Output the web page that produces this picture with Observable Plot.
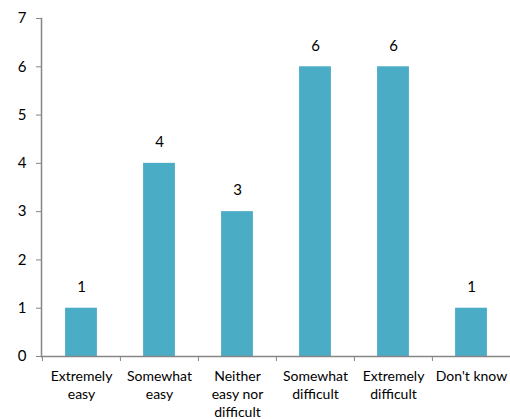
<!DOCTYPE html>
<html>
<head>
<meta charset="utf-8">
<script src="https://cdn.jsdelivr.net/npm/d3@7"></script>
<script src="https://cdn.jsdelivr.net/npm/@observablehq/plot@0.6"></script>
<style>
  body { margin: 0; background: #fff; }
  #chart svg { display: block; }
</style>
</head>
<body>
<div id="chart"></div>
<script>
// Survey responses: how easy or difficult it was
const categories = ["Extremely easy", "Somewhat easy", "Neither easy nor difficult", "Somewhat difficult", "Extremely difficult", "Don't know"];
const counts = [1, 4, 3, 6, 6, 1];
const tickLabels = ["Extremely\neasy", "Somewhat\neasy", "Neither\neasy nor\ndifficult", "Somewhat\ndifficult", "Extremely\ndifficult", "Don't know"];
const yTicks = [0, 1, 2, 3, 4, 5, 6, 7];

const data = categories.map((c, i) => ({category: c, count: counts[i]}));
const labelOf = new Map(categories.map((c, i) => [c, tickLabels[i]]));

const width = 510, height = 419;
const marginLeft = 41, marginRight = 0, marginTop = 18, marginBottom = 63;
const step = (width - marginLeft - marginRight) / categories.length;
const barWidth = 32;
const inset = (step - barWidth) / 2;
const axisColor = "#868686";
const barColor = "#4BACC6";

const chart = Plot.plot({
  width, height, marginLeft, marginRight, marginTop, marginBottom,
  style: {fontFamily: "Lato, sans-serif", color: "#000", background: "#fff"},
  x: {domain: categories, padding: 0},
  y: {domain: [0, 7]},
  marks: [
    Plot.barY(data, {x: "category", y: "count", fill: barColor, insetLeft: inset, insetRight: inset}),
    Plot.text(data, {x: "category", y: "count", text: d => String(d.count), dy: -21, fontSize: 15, fill: "#000"}),
    // y axis with ticks on the left
    Plot.axisY({ticks: yTicks, tickFormat: d3.format("d"), tickSize: 5, tickPadding: 10, stroke: axisColor, fontSize: 15, fill: "#000", label: null}),
    Plot.frame({anchor: "left", stroke: axisColor, strokeWidth: 1.5}),
    // x axis baseline
    Plot.ruleY([0], {stroke: axisColor, strokeWidth: 1.5}),
    // category boundary ticks
    Plot.axisX({tickSize: 5, tickFormat: null, stroke: axisColor, dx: -step / 2, label: null}),
    // category labels
    Plot.axisX({tickSize: 0, tickPadding: 12, tickFormat: d => labelOf.get(d), fontSize: 14, lineHeight: 1.29, fill: "#000", label: null})
  ]
});

document.getElementById("chart").append(chart);
</script>
</body>
</html>
